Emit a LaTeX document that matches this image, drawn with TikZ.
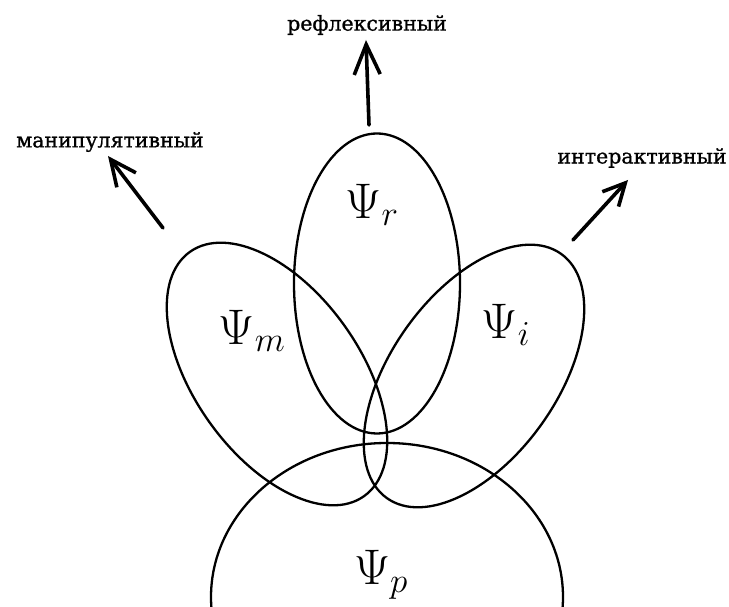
\RequirePackage{fix-cm}
\documentclass[tikz,border=0pt]{standalone}
\usepackage{fontspec}
\newfontfamily\labelfont[FakeBold=1]{DejaVu Serif}
\usetikzlibrary{shapes.geometric,arrows.meta}
\begin{document}
\begin{tikzpicture}[x=1pt,y=1pt,
  petal/.style={draw, ellipse, line width=2.3pt, minimum width=300pt, minimum height=166pt, inner sep=0pt, outer sep=0pt},
  base/.style={draw, ellipse, line width=2.3pt, minimum width=352pt, minimum height=308pt, inner sep=0pt, outer sep=0pt},
  psi/.style={font=\fontsize{50}{50}\selectfont, inner sep=0pt},
  lab/.style={font=\labelfont\fontsize{20.5}{20.5}\selectfont, inner sep=0pt},
  arr/.style={line width=3.6pt, line cap=round}
]
\useasboundingbox (0,0) rectangle (729,607);
\begin{scope}
  \clip (0,0) rectangle (729,607);
  \node[petal, rotate=90] (r) at (377,323.5) {};
  \node[petal, rotate=-54.5] (m) at (277,233) {};
  \node[petal, rotate=54.5] (i) at (474,231) {};
  \node[base] (p) at (387,10) {};
\end{scope}
\node[psi] (tr) at (372,402) {$\Psi_r$};
\node[psi] (tm) at (252,276) {$\Psi_m$};
\node[psi] (ti) at (506,282) {$\Psi_i$};
\node[psi] (tp) at (381,32) {$\Psi_p$};
\node[lab] (lr) at (367,582) {рефлексивный};
\node[lab] (lm) at (110,465) {манипулятивный};
\node[lab] (li) at (642,449) {интерактивный};
\coordinate (ar0) at (369,482);
\coordinate (ar1) at (366,567);
\coordinate (am0) at (163,379);
\coordinate (am1) at (108,451);
\coordinate (ai0) at (573,367);
\coordinate (ai1) at (628,427);
\draw[arr, -{Straight Barb[length=30pt,width=26pt]}] (ar0) -- (ar1);
\draw[arr, -{Straight Barb[length=26pt,width=24pt]}] (am0) -- (am1);
\draw[arr, -{Straight Barb[length=22pt,width=22pt]}] (ai0) -- (ai1);
\end{tikzpicture}
\end{document}
